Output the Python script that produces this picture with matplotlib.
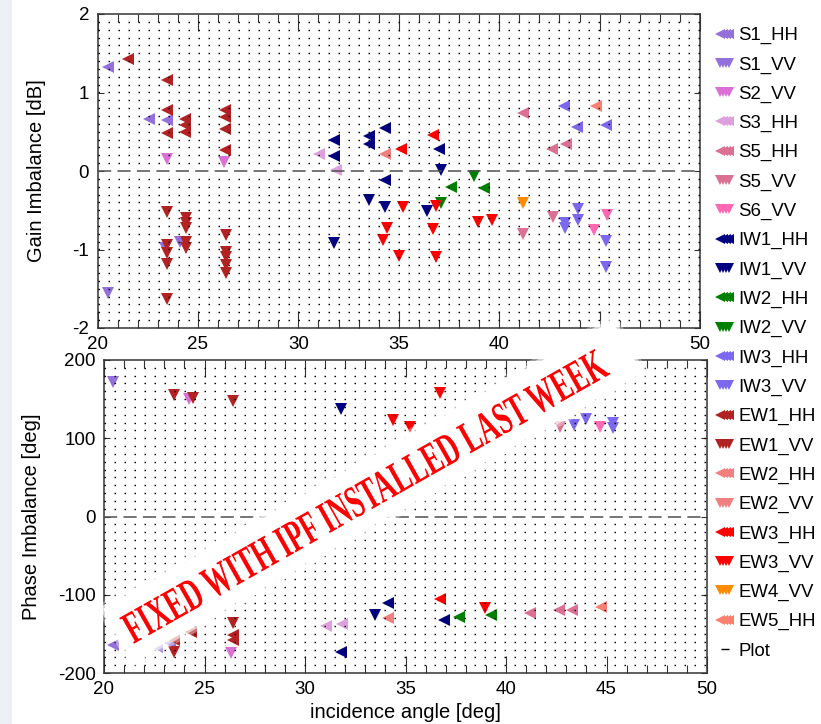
import matplotlib
matplotlib.use("Agg")
import matplotlib.pyplot as plt
import matplotlib.patheffects as pe
import numpy as np
from matplotlib.legend_handler import HandlerLine2D
from matplotlib.lines import Line2D
from matplotlib.patches import Polygon, Rectangle
from matplotlib.transforms import Affine2D

plt.rcParams["font.family"] = ["Liberation Sans", "DejaVu Sans"]
plt.rcParams["lines.scale_dashes"] = False
plt.rcParams["axes.unicode_minus"] = False

# ---- data: incidence angle [deg] vs gain [dB] / phase [deg] per product ----
S1_HH_gain_inc = [20.5, 22.55, 23.45]
S1_HH_gain_db = [1.33, 0.66, 0.65]
S1_HH_phase_inc = [20.45, 22.65, 23.3]
S1_HH_phase_deg = [-164, -167, -162]

S1_VV_gain_inc = [20.5, 24.1, 23.35]
S1_VV_gain_db = [-1.56, -0.90, -0.98]
S1_VV_phase_inc = [20.45]
S1_VV_phase_deg = [172]

S2_VV_gain_inc = [23.45, 26.3]
S2_VV_gain_db = [0.15, 0.11]
S2_VV_phase_inc = [24.25, 26.3]
S2_VV_phase_deg = [150, -175]

S3_HH_gain_inc = [31.05, 31.9]
S3_HH_gain_db = [0.22, 0.01]
S3_HH_phase_inc = [31.05, 31.85]
S3_HH_phase_deg = [-140, -137]

S5_HH_gain_inc = [41.2, 42.65, 43.35]
S5_HH_gain_db = [0.74, 0.28, 0.35]
S5_HH_phase_inc = [41.2, 42.65, 43.3]
S5_HH_phase_deg = [-123, -120, -119]

S5_VV_gain_inc = [41.2, 42.7]
S5_VV_gain_db = [-0.80, -0.59]
S5_VV_phase_inc = [42.7]
S5_VV_phase_deg = [114]

S6_VV_gain_inc = [44.7, 45.35]
S6_VV_gain_db = [-0.75, -0.56]
S6_VV_phase_inc = [44.7]
S6_VV_phase_deg = [114]

IW1_HH_gain_inc = [31.8, 31.8, 33.5, 33.5, 34.3, 34.3, 37.0]
IW1_HH_gain_db = [0.39, 0.19, 0.45, 0.35, 0.55, -0.12, 0.28]
IW1_HH_phase_inc = [31.8, 34.15, 36.9]
IW1_HH_phase_deg = [-173, -111, -132]

IW1_VV_gain_inc = [31.8, 33.5, 34.3, 36.4, 37.1]
IW1_VV_gain_db = [-0.92, -0.37, -0.46, -0.51, 0.01]
IW1_VV_phase_inc = [31.8, 33.5]
IW1_VV_phase_deg = [137, -126]

IW2_HH_gain_inc = [37.6, 39.25]
IW2_HH_gain_db = [-0.21, -0.22]
IW2_HH_phase_inc = [37.65, 39.25]
IW2_HH_phase_deg = [-128, -126]

IW2_VV_gain_inc = [37.1, 38.75]
IW2_VV_gain_db = [-0.41, -0.07]
IW2_VV_phase_inc = []
IW2_VV_phase_deg = []

IW3_HH_gain_inc = [43.25, 43.9, 45.3]
IW3_HH_gain_db = [0.83, 0.56, 0.59]
IW3_HH_phase_inc = []
IW3_HH_phase_deg = []

IW3_VV_gain_inc = [43.3, 43.3, 43.95, 43.95, 45.3, 45.3]
IW3_VV_gain_db = [-0.66, -0.73, -0.48, -0.63, -0.89, -1.22]
IW3_VV_phase_inc = [43.4, 44.0, 45.3, 45.3]
IW3_VV_phase_deg = [117, 124, 120, 113]

EW1_HH_gain_inc = [21.5, 23.45, 23.45, 23.45, 24.35, 24.35, 24.35, 26.35, 26.35, 26.35, 26.35]
EW1_HH_gain_db = [1.43, 1.16, 0.78, 0.48, 0.66, 0.58, 0.50, 0.78, 0.69, 0.53, 0.27]
EW1_HH_phase_inc = [23.5, 24.35, 26.4, 26.4]
EW1_HH_phase_deg = [-158, -147, -151, -158]

EW1_VV_gain_inc = [23.45, 23.45, 23.45, 23.45, 23.45, 24.4, 24.4, 24.4, 24.4, 24.4,
                   26.4, 26.4, 26.4, 26.4, 26.4]
EW1_VV_gain_db = [-0.52, -0.94, -1.05, -1.18, -1.63, -0.60, -0.66, -0.73, -0.90, -0.98,
                  -0.82, -1.03, -1.09, -1.20, -1.30]
EW1_VV_phase_inc = [23.5, 24.45, 26.4, 23.5, 26.4]
EW1_VV_phase_deg = [155, 152, 147, -173, -136]

EW2_HH_gain_inc = [34.3]
EW2_HH_gain_db = [0.22]
EW2_HH_phase_inc = [34.15]
EW2_HH_phase_deg = [-130]

EW2_VV_gain_inc = []
EW2_VV_gain_db = []
EW2_VV_phase_inc = []
EW2_VV_phase_deg = []

EW3_HH_gain_inc = [35.1, 36.7]
EW3_HH_gain_db = [0.28, 0.46]
EW3_HH_phase_inc = [36.7]
EW3_HH_phase_deg = [-105]

EW3_VV_gain_inc = [35.2, 34.4, 34.2, 35.0, 36.85, 36.7, 36.85, 38.95, 39.65]
EW3_VV_gain_db = [-0.46, -0.72, -0.88, -1.08, -0.45, -0.74, -1.09, -0.65, -0.62]
EW3_VV_phase_inc = [34.4, 35.2, 36.7, 38.95]
EW3_VV_phase_deg = [123, 114, 158, -117]

EW4_VV_gain_inc = [41.2]
EW4_VV_gain_db = [-0.41]
EW4_VV_phase_inc = []
EW4_VV_phase_deg = []

EW5_HH_gain_inc = [44.8]
EW5_HH_gain_db = [0.83]
EW5_HH_phase_inc = [44.75]
EW5_HH_phase_deg = [-116]

series = {
    "S1_HH": (S1_HH_gain_inc, S1_HH_gain_db, S1_HH_phase_inc, S1_HH_phase_deg),
    "S1_VV": (S1_VV_gain_inc, S1_VV_gain_db, S1_VV_phase_inc, S1_VV_phase_deg),
    "S2_VV": (S2_VV_gain_inc, S2_VV_gain_db, S2_VV_phase_inc, S2_VV_phase_deg),
    "S3_HH": (S3_HH_gain_inc, S3_HH_gain_db, S3_HH_phase_inc, S3_HH_phase_deg),
    "S5_HH": (S5_HH_gain_inc, S5_HH_gain_db, S5_HH_phase_inc, S5_HH_phase_deg),
    "S5_VV": (S5_VV_gain_inc, S5_VV_gain_db, S5_VV_phase_inc, S5_VV_phase_deg),
    "S6_VV": (S6_VV_gain_inc, S6_VV_gain_db, S6_VV_phase_inc, S6_VV_phase_deg),
    "IW1_HH": (IW1_HH_gain_inc, IW1_HH_gain_db, IW1_HH_phase_inc, IW1_HH_phase_deg),
    "IW1_VV": (IW1_VV_gain_inc, IW1_VV_gain_db, IW1_VV_phase_inc, IW1_VV_phase_deg),
    "IW2_HH": (IW2_HH_gain_inc, IW2_HH_gain_db, IW2_HH_phase_inc, IW2_HH_phase_deg),
    "IW2_VV": (IW2_VV_gain_inc, IW2_VV_gain_db, IW2_VV_phase_inc, IW2_VV_phase_deg),
    "IW3_HH": (IW3_HH_gain_inc, IW3_HH_gain_db, IW3_HH_phase_inc, IW3_HH_phase_deg),
    "IW3_VV": (IW3_VV_gain_inc, IW3_VV_gain_db, IW3_VV_phase_inc, IW3_VV_phase_deg),
    "EW1_HH": (EW1_HH_gain_inc, EW1_HH_gain_db, EW1_HH_phase_inc, EW1_HH_phase_deg),
    "EW1_VV": (EW1_VV_gain_inc, EW1_VV_gain_db, EW1_VV_phase_inc, EW1_VV_phase_deg),
    "EW2_HH": (EW2_HH_gain_inc, EW2_HH_gain_db, EW2_HH_phase_inc, EW2_HH_phase_deg),
    "EW2_VV": (EW2_VV_gain_inc, EW2_VV_gain_db, EW2_VV_phase_inc, EW2_VV_phase_deg),
    "EW3_HH": (EW3_HH_gain_inc, EW3_HH_gain_db, EW3_HH_phase_inc, EW3_HH_phase_deg),
    "EW3_VV": (EW3_VV_gain_inc, EW3_VV_gain_db, EW3_VV_phase_inc, EW3_VV_phase_deg),
    "EW4_VV": (EW4_VV_gain_inc, EW4_VV_gain_db, EW4_VV_phase_inc, EW4_VV_phase_deg),
    "EW5_HH": (EW5_HH_gain_inc, EW5_HH_gain_db, EW5_HH_phase_inc, EW5_HH_phase_deg),
}

colors = {
    "S1": "#9370DB", "S2": "#DA70D6", "S3": "#DDA0DD", "S5": "#DB7093", "S6": "#FF69B4",
    "IW1": "#000080", "IW2": "#008000", "IW3": "#7B68EE",
    "EW1": "#B22222", "EW2": "#F08080", "EW3": "#FF0000", "EW4": "#FF8C00", "EW5": "#FA8072",
}

W, H = 821, 724


def px(x, y):
    # pixel position (origin top-left) -> figure fraction
    return x / W, 1 - y / H


class Stretch(pe.AbstractPathEffect):
    """Stretch glyphs vertically about the baseline (tall, narrow stamp lettering)."""

    def __init__(self, sy):
        super().__init__()
        self.sy = sy

    def draw_path(self, renderer, gc, tpath, affine, rgbFace=None):
        renderer.draw_path(gc, tpath, Affine2D().scale(1.0, self.sy) + affine, rgbFace)


def style_axes(ax, ylim, yticks, ystep):
    ax.set_xlim(20, 50)
    ax.set_ylim(*ylim)
    ax.set_xticks(np.arange(20, 51, 5))
    ax.set_xticks(np.arange(20, 51, 1), minor=True)
    ax.set_yticks(yticks)
    ax.tick_params(which="both", direction="in", top=True, right=True, color="#333333",
                   labelcolor="black", labelsize=13.5, pad=6)
    ax.tick_params(axis="x", which="major", length=12.5, width=0.8)
    ax.tick_params(axis="x", which="minor", length=5.5, width=0.8)
    ax.tick_params(axis="y", which="major", length=4, width=0.8)
    for sp in ax.spines.values():
        sp.set_color("#333333")
        sp.set_linewidth(1.1)
    # dotted minor grid rows (drawn above markers, like the original)
    for v in np.arange(ylim[0] + ystep, ylim[1] - ystep / 2, ystep):
        if abs(v) > 1e-9:
            ax.axhline(v, color="black", lw=1.0, ls=(0, (1.1, 6.1)), zorder=3)
    ax.axhline(0, color="#505050", lw=1.1, ls=(0, (9.5, 4.5)), zorder=3)


fig = plt.figure(figsize=(W / 100, H / 100), dpi=100)
fig.add_artist(Rectangle((0, 0), 12 / W, 1, transform=fig.transFigure,
                         facecolor="#edf1f6", edgecolor="none", zorder=-5))

ax_g = fig.add_axes([97.5 / W, 1 - 328 / H, 602.5 / W, 314 / H])
ax_p = fig.add_axes([104 / W, 1 - 673 / H, 603 / W, 313 / H])

style_axes(ax_g, (-2, 2), [-2, -1, 0, 1, 2], 0.1)
style_axes(ax_p, (-200, 200), [-200, -100, 0, 100, 200], 10)

handles = []
for name, (g_x, g_y, p_x, p_y) in series.items():
    c = colors[name.split("_")[0]]
    m = "<" if name.endswith("HH") else "v"
    (h,) = ax_g.plot(g_x, g_y, ls="none", marker=m, ms=9, mew=0, color=c, zorder=2, label=name)
    ax_p.plot(p_x, p_y, ls="none", marker=m, ms=9, mew=0, color=c, zorder=2)
    handles.append(h)

plot_handle = Line2D([], [], ls="none", marker="_", ms=7, mew=1.0, color="black", label="Plot")
handles.append(plot_handle)

ax_g.set_ylabel("Gain Imbalance [dB]", fontsize=14.5)
ax_g.yaxis.set_label_coords((46 - 97.5) / 602.5, 0.5)
ax_p.set_ylabel("Phase Imbalance [deg]", fontsize=14.5)
ax_p.yaxis.set_label_coords((41 - 104) / 603, 0.5)
ax_p.set_xlabel("incidence angle [deg]", fontsize=14.5)
ax_p.xaxis.set_label_coords(0.5, (673 - 703) / 313)

fig.legend(handles=handles, labels=[h.get_label() for h in handles],
           loc="upper left", bbox_to_anchor=px(714, 27), frameon=False,
           fontsize=13.4, numpoints=4, markerscale=0.8, handlelength=1.13,
           handletextpad=0.16, labelspacing=0.65, borderpad=0, borderaxespad=0,
           handler_map={plot_handle: HandlerLine2D(numpoints=1)})

# ---- stamp across the phase panel ----
theta = np.deg2rad(29.5)
u = np.array([np.cos(theta), -np.sin(theta)])
n = np.array([np.sin(theta), np.cos(theta)])
left_end = np.array([118.0, 635.0])
for length, width, alpha in [(597, 72, 0.35), (591, 66, 0.6), (585, 60, 1.0)]:
    centre = left_end + (585 / 2) * u
    corners = [centre + sa * length / 2 * u + sb * width / 2 * n
               for sa, sb in [(-1, -1), (1, -1), (1, 1), (-1, 1)]]
    fig.add_artist(Polygon([px(*c) for c in corners], closed=True, transform=fig.transFigure,
                           facecolor="white", edgecolor="none", alpha=alpha, zorder=10))

start = np.array([126.0, 631.0]) + 15 * n
fig.text(*px(*start), "FIXED WITH IPF INSTALLED LAST WEEK", rotation=29.5,
         rotation_mode="anchor", ha="left", va="baseline", color="#FF0000",
         fontsize=19.6, fontfamily="Liberation Serif", fontweight="bold",
         path_effects=[Stretch(1 / 0.6)], zorder=11)

fig.savefig("out.png", dpi=100)
